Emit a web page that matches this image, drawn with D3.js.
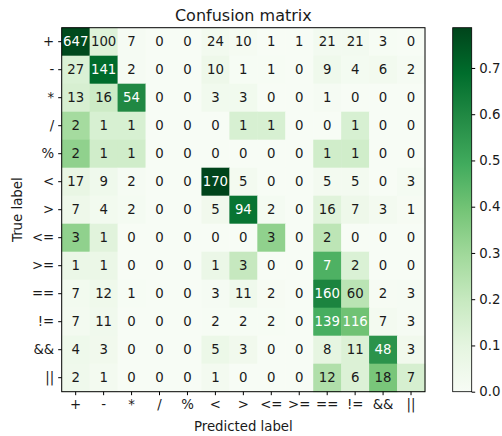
<!DOCTYPE html>
<html><head><meta charset="utf-8">
<script src="https://cdn.jsdelivr.net/npm/d3@7"></script>
<style>body{margin:0;background:#fff}svg{font-family:"DejaVu Sans",sans-serif}</style>
</head><body><svg id="c" width="502" height="436"></svg>
<script>
const labels = ["+","-","*","/","%","<",">","<=",">=","==","!=","&&","||"];
const row_plus = [647,100,7,0,0,24,10,1,1,21,21,3,0];
const row_minus = [27,141,2,0,0,10,1,1,0,9,4,6,2];
const row_mul = [13,16,54,0,0,3,3,0,0,1,0,0,0];
const row_div = [2,1,1,0,0,0,1,1,0,0,1,0,0];
const row_mod = [2,1,1,0,0,0,0,0,0,1,1,0,0];
const row_lt = [17,9,2,0,0,170,5,0,0,5,5,0,3];
const row_gt = [7,4,2,0,0,5,94,2,0,16,7,3,1];
const row_le = [3,1,0,0,0,0,0,3,0,2,0,0,0];
const row_ge = [1,1,0,0,0,1,3,0,0,7,2,0,0];
const row_eq = [7,12,1,0,0,3,11,2,0,160,60,2,3];
const row_ne = [7,11,0,0,0,2,2,2,0,139,116,7,3];
const row_and = [4,3,0,0,0,5,3,0,0,8,11,48,3];
const row_or = [2,1,0,0,0,1,0,0,0,12,6,18,7];
const counts = [row_plus,row_minus,row_mul,row_div,row_mod,row_lt,row_gt,row_le,row_ge,row_eq,row_ne,row_and,row_or];
const cbarTicks = [0.0,0.1,0.2,0.3,0.4,0.5,0.6,0.7];

const norm = counts.map(r => { const s = d3.sum(r); return r.map(v => v / s); });
const vmax = d3.max(norm.flat());
const greens = ["#f7fcf5","#e5f5e0","#c7e9c0","#a1d99b","#74c476","#41ab5d","#238b45","#006d2c","#00441b"];
const color = d3.scaleLinear().domain(d3.range(9).map(i => i/8*vmax)).range(greens).clamp(true);

const svg = d3.select("#c");
const L = 61.7, T = 27.7, R = 425, B = 391.7;
const FS = 13.3;
const x = d3.scaleBand().domain(labels).range([L, R]);
const y = d3.scaleBand().domain(labels).range([T, B]);

const cells = [];
counts.forEach((r, i) => r.forEach((v, j) => cells.push({t: labels[i], p: labels[j], v, n: norm[i][j]})));

svg.append("g").selectAll("rect").data(cells).join("rect")
  .attr("x", d => x(d.p)).attr("y", d => y(d.t))
  .attr("width", x.bandwidth() + 0.5).attr("height", y.bandwidth() + 0.5)
  .attr("fill", d => color(d.n));

svg.append("g").selectAll("text").data(cells).join("text")
  .attr("x", d => x(d.p) + x.bandwidth()/2).attr("y", d => y(d.t) + y.bandwidth()/2)
  .attr("text-anchor", "middle").attr("dy", "0.36em")
  .attr("font-size", FS)
  .attr("fill", d => d.n > vmax/2 ? "#ffffff" : "#1a1a1a")
  .text(d => d.v);

svg.append("rect").attr("x", L).attr("y", T).attr("width", R-L).attr("height", B-T)
  .attr("fill", "none").attr("stroke", "#000").attr("stroke-width", 1);

const xa = svg.append("g").attr("transform", `translate(0,${B})`)
  .call(d3.axisBottom(x).tickSize(3.5).tickPadding(4));
const ya = svg.append("g").attr("transform", `translate(${L},0)`)
  .call(d3.axisLeft(y).tickSize(3.5).tickPadding(4));
[xa, ya].forEach(a => {
  a.select(".domain").remove();
  a.selectAll("text").attr("font-size", FS).attr("fill", "#1a1a1a").attr("font-family", "DejaVu Sans");
  a.selectAll("line").attr("stroke", "#000");
});

svg.append("text").attr("x", (L+R)/2).attr("y", 21).attr("text-anchor", "middle")
  .attr("font-size", 16).attr("fill", "#1a1a1a").text("Confusion matrix");
svg.append("text").attr("x", (L+R)/2).attr("y", 431).attr("text-anchor", "middle")
  .attr("font-size", FS).attr("fill", "#1a1a1a").text("Predicted label");
svg.append("text").attr("transform", `translate(22,${(T+B)/2}) rotate(-90)`).attr("text-anchor", "middle")
  .attr("font-size", FS).attr("fill", "#1a1a1a").text("True label");

// colorbar
const cx0 = 452.7, cw = 19;
const cy = d3.scaleLinear().domain([0, vmax]).range([B, T]);
const defs = svg.append("defs");
const grad = defs.append("linearGradient").attr("id", "g").attr("x1", 0).attr("y1", 1).attr("x2", 0).attr("y2", 0);
greens.forEach((c, i) => grad.append("stop").attr("offset", i/8).attr("stop-color", c));
svg.append("rect").attr("x", cx0).attr("y", T).attr("width", cw).attr("height", B-T)
  .attr("fill", "url(#g)").attr("stroke", "#000").attr("stroke-width", 0.8);
const ca = svg.append("g").attr("transform", `translate(${cx0+cw},0)`)
  .call(d3.axisRight(cy).tickValues(cbarTicks).tickFormat(d3.format(".1f")).tickSize(3.5).tickPadding(4));
ca.select(".domain").remove();
ca.selectAll("text").attr("font-size", FS).attr("fill", "#1a1a1a").attr("font-family", "DejaVu Sans");
ca.selectAll("line").attr("stroke", "#000");
</script></body></html>
